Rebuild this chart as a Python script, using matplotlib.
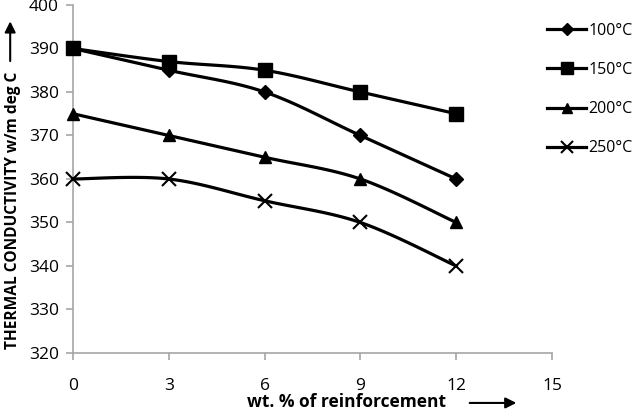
import numpy as np
import matplotlib
matplotlib.use("Agg")
import matplotlib.pyplot as plt
from matplotlib.lines import Line2D

x = [0, 3, 6, 9, 12]
s100 = [390, 385, 380, 370, 360]
s150 = [390, 387, 385, 380, 375]
s200 = [375, 370, 365, 360, 350]
s250 = [360, 360, 355, 350, 340]
labels = ["100°C", "150°C", "200°C", "250°C"]
markers = ["D", "s", "^", "x"]
msizes = [7, 10, 9, 10]

plt.rcParams['font.family'] = ['Open Sans', 'DejaVu Sans']


def smooth(xs, ys, n=30):
    xs = np.asarray(xs, float); ys = np.asarray(ys, float)
    px = np.concatenate([[xs[0]], xs, [xs[-1]]])
    py = np.concatenate([[ys[0]], ys, [ys[-1]]])
    ox, oy = [], []
    for i in range(1, len(px) - 2):
        p0 = np.array([px[i-1], py[i-1]]); p1 = np.array([px[i], py[i]])
        p2 = np.array([px[i+1], py[i+1]]); p3 = np.array([px[i+2], py[i+2]])
        c1 = p1 + (p2 - p0) / 6.0
        c2 = p2 - (p3 - p1) / 6.0
        t = np.linspace(0, 1, n)[:, None]
        b = (1-t)**3*p1 + 3*(1-t)**2*t*c1 + 3*(1-t)*t**2*c2 + t**3*p2
        ox.extend(b[:, 0]); oy.extend(b[:, 1])
    return ox, oy


fig = plt.figure(figsize=(6.37, 4.12), dpi=100)
ax = fig.add_axes([0.1146, 0.1432, 0.752, 0.8447])

handles = []
for ys, lab, m, ms in zip([s100, s150, s200, s250], labels, markers, msizes):
    sx, sy = smooth(x, ys)
    ax.plot(sx, sy, color='black', lw=2.3, zorder=2)
    ax.plot(x, ys, linestyle='none', marker=m, color='black', markersize=ms,
            markeredgewidth=1.5 if m == 'x' else 1, zorder=3, clip_on=False)
    handles.append(Line2D([], [], color='black', lw=2.3, marker=m,
                          markersize=ms * 0.85, markeredgewidth=1.5 if m == 'x' else 1))

ax.set_xlim(0, 15)
ax.set_ylim(320, 400)
ax.set_xticks([0, 3, 6, 9, 12, 15])
ax.set_yticks(range(320, 401, 10))
for sp in ['top', 'right']:
    ax.spines[sp].set_visible(False)
for sp in ['left', 'bottom']:
    ax.spines[sp].set_color('#a6a6a6')
    ax.spines[sp].set_linewidth(1.2)
ax.tick_params(axis='both', colors='#a6a6a6', labelcolor='black', labelsize=12.5,
               length=5, width=1.2, direction='out')
ax.tick_params(axis='x', pad=13)
ax.tick_params(axis='y', pad=5)

fig.legend(handles, labels, loc='upper left', bbox_to_anchor=(0.848, 0.96),
           frameon=False, fontsize=11.5, handlelength=2.5, handletextpad=0.1,
           labelspacing=1.45, borderaxespad=0)

fig.text(0.020, 0.49, "THERMAL CONDUCTIVITY w/m deg C", rotation=90,
         ha='center', va='center', fontsize=11.2, fontweight='bold')
fig.add_artist(matplotlib.patches.FancyArrowPatch((0.016, 0.845), (0.016, 0.955),
               transform=fig.transFigure, arrowstyle='-|>', mutation_scale=16,
               color='black', lw=1.5))
fig.text(0.544, 0.024, "wt. % of reinforcement", ha='center', va='center',
         fontsize=12.5, fontweight='bold')
fig.add_artist(matplotlib.patches.FancyArrowPatch((0.733, 0.022), (0.815, 0.022),
               transform=fig.transFigure, arrowstyle='-|>', mutation_scale=16,
               color='black', lw=1.5))

fig.savefig("out.png", dpi=100)
